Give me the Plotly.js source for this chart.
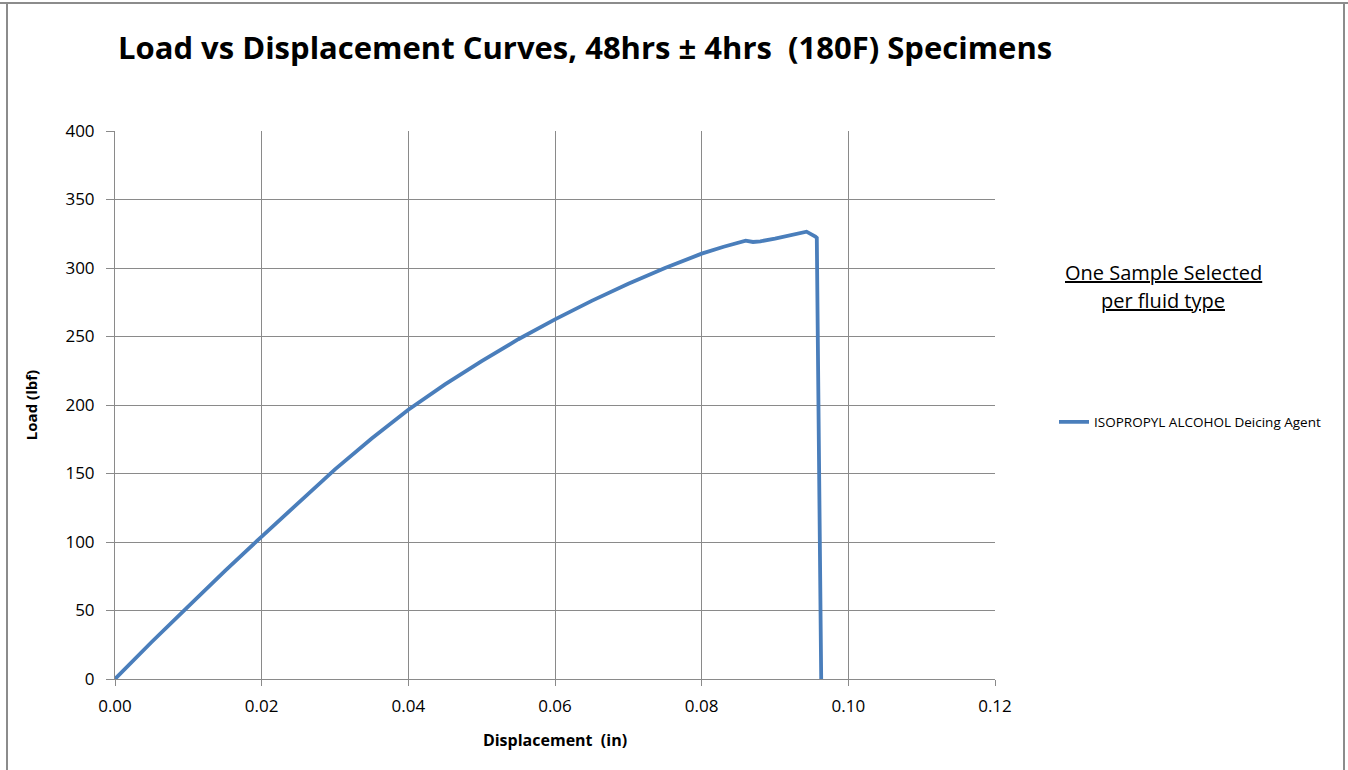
<!DOCTYPE html>
<html>
<head>
<meta charset="utf-8">
<script src="https://cdn.plot.ly/plotly-3.0.1.min.js"></script>
<style>
html,body{margin:0;padding:0;background:#fff;}
#chart{width:1348px;height:770px;}
</style>
</head>
<body>
<div id="chart"></div>
<script>
const displacement = [0, 0.005, 0.01, 0.015, 0.02, 0.025, 0.03, 0.035, 0.04, 0.045, 0.05, 0.055, 0.06, 0.065, 0.07, 0.075, 0.08, 0.083, 0.0855, 0.086, 0.087, 0.088, 0.09, 0.092, 0.0935, 0.0943, 0.0955, 0.0957, 0.0963];
const load = [0, 27, 53, 79, 104, 128.5, 153, 175.5, 196.5, 215, 232, 248, 262.5, 276, 288.5, 300, 310.5, 315.5, 319.5, 320, 319, 319.5, 321.5, 324, 326, 326.5, 323, 322, 0];
const seriesName = "ISOPROPYL ALCOHOL Deicing Agent";
const chartTitle = "Load vs Displacement Curves, 48hrs ± 4hrs  (180F) Specimens";
const xTitle = "Displacement  (in)";
const yTitle = "Load (lbf)";
const noteLines = ["One Sample Selected", "per fluid type"];

const font = "'Open Sans', sans-serif";
const grid = "#8a8a8a";

const trace = {
  x: displacement, y: load, type: "scatter", mode: "lines",
  name: seriesName,
  line: {color: "#4a7ebb", width: 3.8}
};

const layout = {
  width: 1348, height: 770,
  margin: {l: 115, r: 353, t: 131, b: 91},
  paper_bgcolor: "#fff", plot_bgcolor: "#fff",
  font: {family: font, color: "#000"},
  title: {text: "<b>" + chartTitle + "</b>", font: {family: font, size: 31, color: "#000"},
          x: 118/1348, xanchor: "left", y: 1 - 48/770, yanchor: "middle"},
  xaxis: {
    range: [0, 0.12], dtick: 0.02, tick0: 0, tickformat: ".2f",
    showgrid: true, gridcolor: grid, gridwidth: 1,
    showline: true, linecolor: grid, linewidth: 1, mirror: false,
    ticks: "outside", ticklen: 6, tickcolor: grid, ticklabelstandoff: 6,
    zeroline: false,
    tickfont: {family: font, size: 17, color: "#000"},
    title: {text: "<b>" + xTitle + "</b>", font: {family: font, size: 16, color: "#000"}, standoff: 18}
  },
  yaxis: {
    range: [0, 400], dtick: 50,
    showgrid: true, gridcolor: grid, gridwidth: 1,
    showline: true, linecolor: grid, linewidth: 1,
    ticks: "outside", ticklen: 8, tickcolor: grid, ticklabelstandoff: 8,
    zeroline: false,
    tickfont: {family: font, size: 17, color: "#000"},
    title: {text: "<b>" + yTitle + "</b>", font: {family: font, size: 15, color: "#000"}, standoff: 24}
  },
  showlegend: true,
  legend: {x: (1054-115)/880, y: (679-422)/548, xanchor: "left", yanchor: "middle",
           font: {family: font, size: 13.5, color: "#000"}, bgcolor: "rgba(0,0,0,0)"},
  annotations: noteLines.map((t, i) => ({
    xref: "paper", yref: "paper", x: (1163-115)/880, y: (679-(272+28*i))/548,
    xanchor: "center", yanchor: "middle", showarrow: false,
    text: "<u>" + t + "</u>", font: {family: font, size: 20, color: "#000"}
  })),
  shapes: [
    {type: "line", xref: "paper", yref: "paper", x0: -115/880, x1: (1348-115)/880, y0: (679-3)/548, y1: (679-3)/548, line: {color: "#8c8c8c", width: 2}},
    {type: "line", xref: "paper", yref: "paper", x0: (7-115)/880, x1: (7-115)/880, y0: (679-3)/548, y1: (679-770)/548, line: {color: "#8c8c8c", width: 2}},
    {type: "line", xref: "paper", yref: "paper", x0: (1344-115)/880, x1: (1344-115)/880, y0: (679-3)/548, y1: (679-770)/548, line: {color: "#8c8c8c", width: 2}}
  ]
};

Plotly.newPlot("chart", [trace], layout, {displayModeBar: false, staticPlot: true});
</script>
</body>
</html>
